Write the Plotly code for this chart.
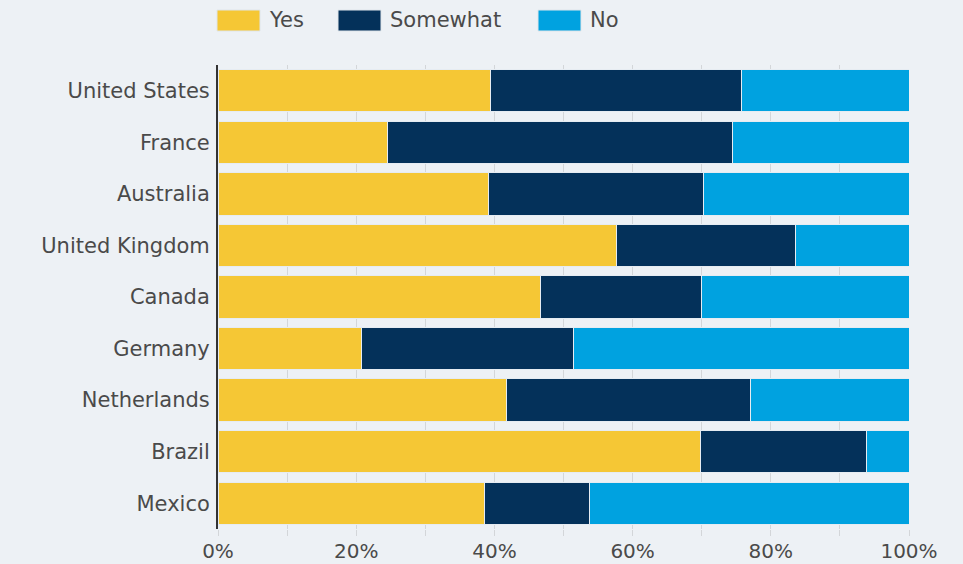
import plotly.graph_objects as go

countries = ["United States", "France", "Australia", "United Kingdom", "Canada",
             "Germany", "Netherlands", "Brazil", "Mexico"]
yes = [39.4, 24.5, 39.1, 57.7, 46.6, 20.8, 41.7, 69.8, 38.6]
somewhat = [36.4, 49.9, 31.1, 25.9, 23.3, 30.6, 35.3, 24.1, 15.1]
no = [24.2, 25.6, 29.8, 16.4, 30.1, 48.6, 23.0, 6.1, 46.3]

series = [("Yes", yes, "#F5C735"), ("Somewhat", somewhat, "#04315A"), ("No", no, "#00A2E0")]

W, H = 963, 564
ML, MR, MT, MB = 218, 54, 65, 35

fig = go.Figure()
for name, vals, color in series:
    fig.add_trace(go.Bar(
        y=countries, x=vals, name=name, orientation="h",
        marker=dict(color=color, line=dict(color="#e6ecf2", width=1)),
        showlegend=False,
    ))

# custom legend (pixel positions converted to paper coords)
pw, ph = W - ML - MR, H - MT - MB
def px(x):
    return (x - ML) / pw
def py(y):
    return (H - MB - y) / ph

legend_items = [("Yes", "#F5C735", 217), ("Somewhat", "#04315A", 338), ("No", "#00A2E0", 538)]
shapes = []
annotations = []
for name, color, x0 in legend_items:
    shapes.append(dict(type="rect", xref="paper", yref="paper",
                       x0=px(x0), x1=px(x0 + 43), y0=py(31), y1=py(10),
                       fillcolor=color, line=dict(color="#dfe5ea", width=1)))
    annotations.append(dict(xref="paper", yref="paper", x=px(x0 + 50), y=py(20.5),
                            xanchor="left", yanchor="middle", text=name, showarrow=False,
                            font=dict(size=21, color="#4a4a4a")))

fig.update_layout(
    barmode="stack",
    bargap=0.18,
    width=W, height=H,
    margin=dict(l=ML, r=MR, t=MT, b=MB),
    paper_bgcolor="#EDF1F5",
    plot_bgcolor="#EDF1F5",
    font=dict(family="DejaVu Sans, sans-serif", size=21, color="#4a4a4a"),
    shapes=shapes,
    annotations=annotations,
    showlegend=False,
)
fig.update_xaxes(range=[0, 100], tickvals=[0, 20, 40, 60, 80, 100],
                 ticktext=["0%", "20%", "40%", "60%", "80%", "100%"],
                 tickfont=dict(size=20),
                 showgrid=True, gridcolor="#d3d6d9", gridwidth=1,
                 minor=dict(dtick=10, showgrid=True, gridcolor="#d3d6d9", ticks="outside",
                            ticklen=6, tickcolor="#d3d6d9"),
                 ticks="outside", ticklen=6, tickcolor="#d3d6d9",
                 ticklabelstandoff=-2, automargin=False,
                 zeroline=False, fixedrange=True)
fig.update_yaxes(autorange="reversed", showline=True, linecolor="#333333", linewidth=2,
                 ticks="", ticklabelstandoff=2, showgrid=False, automargin=False)

fig.write_html("out.html", config={"displayModeBar": False},
               post_script="document.body.style.margin='0';document.body.style.background='#EDF1F5';")
